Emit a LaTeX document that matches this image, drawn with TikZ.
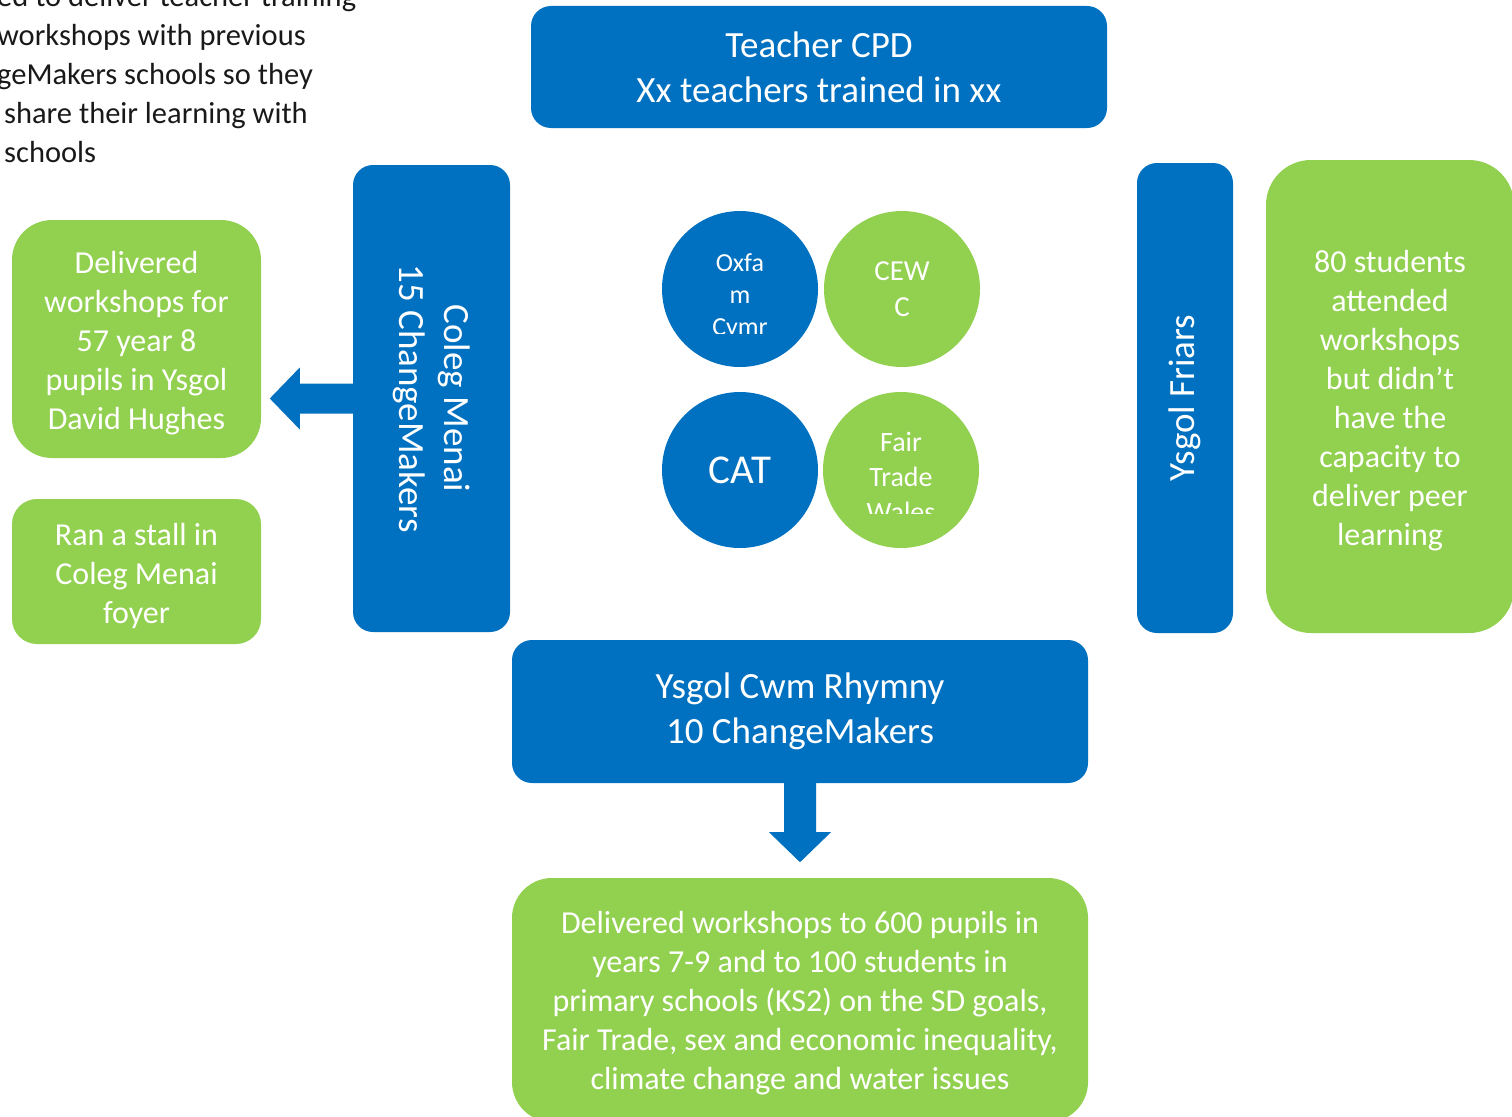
\documentclass[tikz,border=0pt]{standalone}
\usepackage{fontspec}
\setmainfont{Carlito}
\usetikzlibrary{calc}
\definecolor{cmblue}{HTML}{0070C0}
\definecolor{cmgreen}{HTML}{92D050}

\begin{document}
\begin{tikzpicture}
      [x=1pt,y=-1pt
      ,blu/.style={rectangle,rounded corners=20pt,fill=cmblue,text=white,inner sep=0,align=center}
      ,grn/.style={rectangle,rounded corners=40pt,fill=cmgreen,text=white,inner sep=0,align=center}
      ,dot/.style={circle,minimum size=156pt,inner sep=0,text=white,align=center}
      ,big/.style={font=\fontsize{37}{45}\selectfont}
      ,txt/.style={font=\fontsize{32}{39}\selectfont}
      ,arr/.style={fill=cmblue}]
        \useasboundingbox (0,0) rectangle (1512,1116);
        % note at the top left, cut by the page edge
        \node[font=\fontsize{30.5}{39}\selectfont,anchor=north west,align=left,inner sep=0,text=black!90] (note) at (-3,-15)
          {ed to deliver teacher training\\workshops with previous\\geMakers schools so they\\
           \hspace*{7pt}share their learning with\\\hspace*{7pt}schools};
        % blue boxes
        \node[blu,big,minimum width=576pt,minimum height=122pt] (cpd) at (819,67)
          {Teacher CPD\\Xx teachers trained in xx};
        \node[blu,minimum width=157pt,minimum height=467pt] (cm) at (431.5,398.5) {};
        \node[big,text=white,rotate=-90,align=center] (cmt) at (cm) {Coleg Menai\\15 ChangeMakers};
        \node[blu,minimum width=96pt,minimum height=470pt] (fr) at (1185,398) {};
        \node[big,text=white,rotate=90] (frt) at (fr) {Ysgol Friars};
        \node[blu,big,minimum width=576pt,minimum height=143pt] (cr) at (800,711.5)
          {Ysgol Cwm Rhymny\\10 ChangeMakers};
        % green boxes
        \node[grn,minimum width=249pt,minimum height=238pt] (dh) at (136.5,339) {};
        \node[txt,text=white,align=center] at ([yshift=-4pt]dh) {Delivered\\workshops for\\57 year 8\\pupils in Ysgol\\David Hughes};
        \node[grn,rounded corners=25pt,minimum width=249pt,minimum height=145pt] (st) at (136.5,571.5) {};
        \node[txt,text=white,align=center] at ([yshift=-4pt]st) {Ran a stall in\\Coleg Menai\\foyer};
        \node[grn,rounded corners=45pt,minimum width=248pt,minimum height=473pt] (fs) at (1390,396.5) {};
        \node[txt,text=white,align=center] at ([yshift=-4pt]fs)
          {80 students\\attended\\workshops\\but didn’t\\have the\\capacity to\\deliver peer\\learning};
        \node[grn,minimum width=576pt,minimum height=244pt] (ws) at (800,1000) {};
        \node[txt,text=white,align=center] at ([yshift=-3pt]ws)
          {Delivered workshops to 600 pupils in\\years 7-9 and to 100 students in\\primary schools (KS2) on the SD goals,\\Fair Trade, sex and economic inequality,\\climate change and water issues};
        % partner circles
        \node[dot,fill=cmblue] (ox) at (740,289) {};
        \node[dot,fill=cmgreen,font=\fontsize{29}{36}\selectfont] (cw) at (902,289) {CEW\\C};
        \node[dot,fill=cmblue,font=\fontsize{41}{48}\selectfont] (cat) at (740,470) {CAT};
        \node[dot,fill=cmgreen] (ft) at (901,470) {};
        \begin{scope}
          \clip (650,200) rectangle (830,333);
          \node[font=\fontsize{26}{32}\selectfont,text=white,align=center] (oxt) at (ox) [yshift=-8pt] {Oxfa\\m\\Cymr};
        \end{scope}
        \begin{scope}
          \clip (815,380) rectangle (990,513);
          \node[font=\fontsize{28}{35}\selectfont,text=white,align=center] (ftt) at (ft) [yshift=-7pt] {Fair\\Trade\\Wales};
        \end{scope}
        % block arrows
        \fill[arr] ($(cm.west)+(0,-15)$) -- ++(-53,0) -- ++(0,-16) -- ++(-30,31)
                   -- ++(30,31) -- ++(0,-16) -- ++(53,0) -- cycle;
        \fill[arr] ($(cr.south)+(-16,0)$) -- ++(0,49) -- ++(-15,0) -- ++(31,30)
                   -- ++(31,-30) -- ++(-15,0) -- ++(0,-49) -- cycle;
      \end{tikzpicture}
\end{document}
